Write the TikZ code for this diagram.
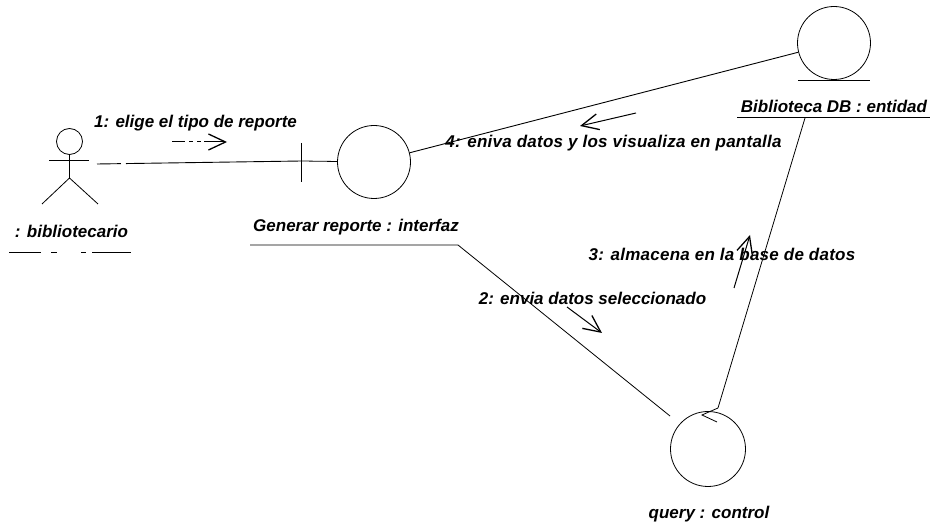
\documentclass[tikz,border=0pt]{standalone}
\usepackage{fontspec}
\usepackage{tikz}
\usetikzlibrary{arrows.meta,positioning}
\newfontfamily\msgfont{Liberation Sans}
\newfontfamily\msgwidefont[LetterSpace=1.5]{Liberation Sans}
\tikzset{
	ball/.style={draw, circle, inner sep=0pt, minimum size=#1},
	msg/.style={font=\msgfont\fontsize{17}{20}\selectfont\bfseries\itshape, inner sep=0pt, anchor=base},
	msgwide/.style={msg, font=\msgwidefont\fontsize{17}{20}\selectfont\bfseries\itshape},
	flow/.style={line width=1pt, -{Straight Barb[length=17pt,width=16pt,line width=1.3pt]}},
	link/.style={line width=0.9pt}
}
\begin{document}
\begin{tikzpicture}[x=1pt,y=-1pt,line width=0.8pt]
	\useasboundingbox (0,0) rectangle (930,526);
	% actor
	\node[ball=26pt] (head) at (69.5,141.5) {};
	\coordinate (neck) at (69.5,178);
	\coordinate (armL) at (49,160);
	\coordinate (armR) at (89,160);
	\coordinate (footL) at (42,204);
	\coordinate (footR) at (98,204);
	\draw (head) -- (neck);
	\draw (armL) -- (armR);
	\draw (footL) -- (neck) -- (footR);
	\node[msg] (actorlab) at (71.5,238) {: bibliotecario};
	\coordinate (actorulL) at (9,252);
	\coordinate (actorulR) at (131,252);
	\draw[dash pattern=on 32pt off 10pt on 6pt off 24pt on 5pt off 6pt on 39pt off 2pt] (actorulL) -- (actorulR);
	% circles
	\node[ball=73pt] (interfaz) at (374,162) {};
	\node[ball=73pt] (entidad) at (834,43) {};
	\node[ball=75pt] (control) at (708,449) {};
	\coordinate (tickT) at (301.5,143);
	\coordinate (tickB) at (301.5,182);
	\draw (tickT) -- (tickB);
	\coordinate (barL) at (798,80);
	\coordinate (barR) at (870,80);
	\draw (barL) -- (barR);
	\coordinate (arrowA) at (718,408);
	\coordinate (arrowB) at (702,415);
	\coordinate (arrowC) at (717,422);
	\draw (arrowA) -- (arrowB) -- (arrowC);
	% object names
	\node[msg] (interfazlab) at (356,232) {Generar reporte : interfaz};
	\node[msg] (entidadlab) at (834,113) {Biblioteca DB : entidad};
	\node[msg] (controllab) at (709,519) {query : control};
	\coordinate (entulL) at (737,117);
	\coordinate (entulR) at (930,117);
	\draw (entulL) -- (entulR);
	% links
	\coordinate (actorend) at (97,164);
	\coordinate (tickmid) at (301.5,161);
	\draw[link,dash pattern=on 24pt off 5pt on 400pt] (actorend) -- (tickmid);
	\draw (tickmid) -- (interfaz);
	\draw[link] (interfaz) -- (entidad);
	\coordinate (genL) at (250,245);
	\coordinate (genR) at (458,245);
	\coordinate (genend) at (670,416);
	\draw (genL) -- (genR) -- (genend);
	\coordinate (entstart) at (805,118);
	\draw (entstart) -- (arrowA);
	% messages
	\node[msg] (msgA) at (195.5,128) {1: elige el tipo de reporte};
	\node[msgwide] (msgD) at (613.5,148) {4: eniva datos y los visualiza en pantalla};
	\node[msgwide] (msgC) at (722,261) {3: almacena en la base de datos};
	\node[msg] (msgB) at (592.5,305) {2: envia datos seleccionado};
	\coordinate (flowAs) at (172,142);
	\coordinate (flowAe) at (227,142);
	\coordinate (flowDs) at (636,113);
	\coordinate (flowDe) at (580,126);
	\coordinate (flowCs) at (734,288);
	\coordinate (flowCe) at (750,235);
	\coordinate (flowBs) at (567,307);
	\coordinate (flowBe) at (602,333);
	\draw[flow,dash pattern=on 13pt off 4pt on 4pt off 4pt on 4pt off 3pt on 40pt] (flowAs) -- (flowAe);
	\draw[flow] (flowDs) -- (flowDe);
	\draw[flow] (flowCs) -- (flowCe);
	\draw[flow] (flowBs) -- (flowBe);
\end{tikzpicture}
\end{document}
